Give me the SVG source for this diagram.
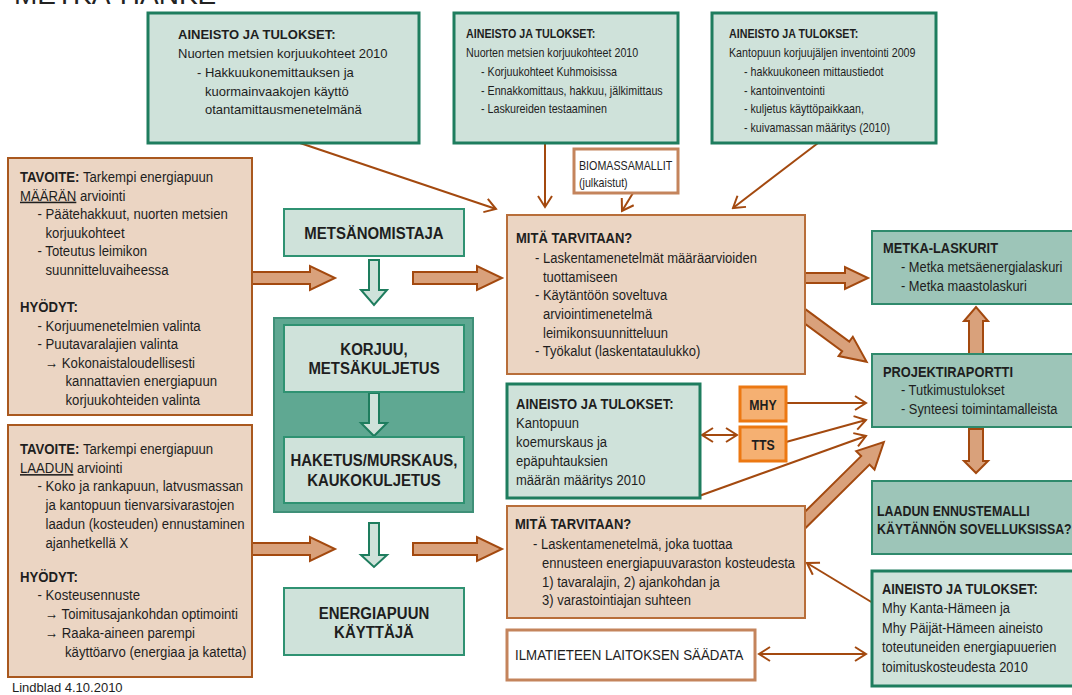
<svg xmlns="http://www.w3.org/2000/svg" width="1072" height="695" viewBox="0 0 1072 695">
<style>
.n{font-family:"Liberation Sans Narrow","Arial Narrow","Liberation Sans",Arial,sans-serif;fill:#1e1e1e}
.w{font-family:"Liberation Sans",Arial,sans-serif;fill:#1e1e1e;font-size:13px}
.s13{font-size:13.2px}
.s15{font-size:15.5px}
.s17{font-size:17px}
.b{font-weight:bold}
.gbox{fill:#cfe2da;stroke:#1e7d5e;stroke-width:3}
.gbox2{fill:#cfe2da;stroke:#2f9272;stroke-width:2}
.tbox{fill:#9dc5b8;stroke:#2f8a6c;stroke-width:2}
.pbox{fill:#ebd5c3;stroke:#a9581e;stroke-width:2}
.mbox{fill:#ebd5c3;stroke:#b86e3a;stroke-width:2}
.wbox{fill:#fff;stroke:#c4845c;stroke-width:3}
.obox{fill:#f5b072;stroke:#ec7812;stroke-width:3}
.ba{fill:#d9a17b;stroke:#a3490f;stroke-width:2;stroke-linejoin:miter}
.ga{fill:#cfe2da;stroke:#1e7d5e;stroke-width:2}
.tl{fill:none;stroke:#a3490f;stroke-width:2}
</style>
<defs>
<marker id="ah" markerUnits="userSpaceOnUse" viewBox="0 0 14 16" markerWidth="14" markerHeight="16" refX="12" refY="8" orient="auto-start-reverse">
<path d="M1,1 L12,8 L1,15" fill="none" stroke="#a3490f" stroke-width="2"/>
</marker>
</defs>
<rect width="1072" height="695" fill="#fff"/>
<text x="14" y="4" font-family="Liberation Sans, Arial, sans-serif" font-size="28" fill="#222">METKA-HANKE</text>

<g id="container">
<rect x="274" y="318" width="199" height="194" fill="#5fa892" stroke="#3f9078" stroke-width="2"/>
</g>

<g id="connectors">
<line class="tl" x1="300" y1="143" x2="496" y2="209" marker-end="url(#ah)"/>
<line class="tl" x1="545" y1="143" x2="545" y2="207" marker-end="url(#ah)"/>
<line class="tl" x1="633" y1="193" x2="622" y2="211" marker-end="url(#ah)"/>
<line class="tl" x1="818" y1="143" x2="733" y2="208" marker-end="url(#ah)"/>
<line class="tl" x1="786" y1="403" x2="866" y2="403" marker-end="url(#ah)"/>
<line class="tl" x1="786" y1="442" x2="866" y2="420" marker-end="url(#ah)"/>
<line class="tl" x1="699" y1="496" x2="866" y2="436" marker-end="url(#ah)"/>
<line class="tl" x1="702" y1="435" x2="737" y2="435" marker-start="url(#ah)" marker-end="url(#ah)"/>
<line class="tl" x1="873" y1="603" x2="807" y2="563" marker-end="url(#ah)"/>
<line class="tl" x1="759" y1="654" x2="866" y2="654" marker-start="url(#ah)" marker-end="url(#ah)"/>
<polygon class="ba" points="252,272 310,272 310,266 335,278 310,290 310,284 252,284"/>
<polygon class="ba" points="413,272 477,272 477,266 502,278 477,290 477,284 413,284"/>
<polygon class="ba" points="252,543 310,543 310,537 335,549 310,561 310,555 252,555"/>
<polygon class="ba" points="413,543 477,543 477,537 502,549 477,561 477,555 413,555"/>
<polygon class="ba" points="805,273 845,273 845,267 868,278 845,289 845,283 805,283"/>
<polygon class="ba" transform="translate(795,309) rotate(36.4)" points="0,-6 63,-6 63,-12 89,0 63,12 63,6 0,6"/>
<polygon class="ba" transform="translate(795,530) rotate(-44.7)" points="0,-6 99,-6 99,-13 125,0 99,13 99,6 0,6"/>
<polygon class="ba" points="969,354 969,321 964,321 976,307 988,321 983,321 983,354"/>
<polygon class="ba" points="969,429 969,461 964,461 976,473 988,461 983,461 983,429"/>
<polygon class="ga" points="369,260 379,260 379,290 387,290 374,305 361,290 369,290"/>
<polygon class="ga" points="369,393 379,393 379,423 387,423 374,436 361,423 369,423"/>
<polygon class="ga" points="369,523 379,523 379,555 387,555 374,567 361,555 369,555"/>
</g>

<g id="top1">
<rect class="gbox" x="148" y="13" width="271" height="130"/>
<text class="w b" x="178" y="39">AINEISTO JA TULOKSET:</text>
<text class="w" x="178" y="58">Nuorten metsien korjuukohteet 2010</text>
<text class="w" x="197" y="77">- Hakkuukonemittauksen ja</text>
<text class="w" x="205" y="96">kuormainvaakojen käyttö</text>
<text class="w" x="205" y="114">otantamittausmenetelmänä</text>
</g>

<g id="top2">
<rect class="gbox" x="454" y="13" width="224" height="130"/>
<text class="n s13 b" x="466" y="38" transform="matrix(.81 0 0 1 88.54 0)">AINEISTO JA TULOKSET:</text>
<text class="n s13" x="466" y="57" transform="matrix(.81 0 0 1 88.54 0)">Nuorten metsien korjuukohteet 2010</text>
<text class="n s13" x="481" y="76" transform="matrix(.81 0 0 1 91.39 0)">- Korjuukohteet Kuhmoisissa</text>
<text class="n s13" x="481" y="95" transform="matrix(.81 0 0 1 91.39 0)">- Ennakkomittaus, hakkuu, jälkimittaus</text>
<text class="n s13" x="481" y="113" transform="matrix(.81 0 0 1 91.39 0)">- Laskureiden testaaminen</text>
</g>

<g id="top3">
<rect class="gbox" x="712" y="13" width="224" height="130"/>
<text class="n s13 b" x="729" y="38" transform="matrix(.81 0 0 1 138.51 0)">AINEISTO JA TULOKSET:</text>
<text class="n s13" x="729" y="57" transform="matrix(.81 0 0 1 138.51 0)">Kantopuun korjuujäljen inventointi 2009</text>
<text class="n s13" x="744" y="76" transform="matrix(.81 0 0 1 141.36 0)">- hakkuukoneen mittaustiedot</text>
<text class="n s13" x="744" y="95" transform="matrix(.81 0 0 1 141.36 0)">- kantoinventointi</text>
<text class="n s13" x="744" y="113" transform="matrix(.81 0 0 1 141.36 0)">- kuljetus käyttöpaikkaan,</text>
<text class="n s13" x="744" y="132" transform="matrix(.81 0 0 1 141.36 0)">- kuivamassan määritys (2010)</text>
</g>

<g id="biomassa">
<rect class="wbox" x="574" y="149" width="104" height="44"/>
<text class="n s13" x="579" y="170" transform="matrix(.81 0 0 1 110.01 0)">BIOMASSAMALLIT</text>
<text class="n s13" x="579" y="187" transform="matrix(.81 0 0 1 110.01 0)">(julkaistut)</text>
</g>

<g id="tavoite1">
<rect class="pbox" x="8" y="158" width="244" height="257"/>
<text class="n s15" x="20" y="182" transform="matrix(.85 0 0 1 3 0)"><tspan class="b">TAVOITE:</tspan> Tarkempi energiapuun</text>
<text class="n s15" x="20" y="200.6" transform="matrix(.85 0 0 1 3 0)"><tspan text-decoration="underline">MÄÄRÄN</tspan> arviointi</text>
<text class="n s15" x="37.5" y="219.2" transform="matrix(.85 0 0 1 5.625 0)">- Päätehakkuut, nuorten metsien</text>
<text class="n s15" x="45.5" y="237.8" transform="matrix(.85 0 0 1 6.825 0)">korjuukohteet</text>
<text class="n s15" x="37.5" y="256.4" transform="matrix(.85 0 0 1 5.625 0)">- Toteutus leimikon</text>
<text class="n s15" x="45.5" y="275" transform="matrix(.85 0 0 1 6.825 0)">suunnitteluvaiheessa</text>
<text class="n s15 b" x="20" y="312" transform="matrix(.85 0 0 1 3 0)">HYÖDYT:</text>
<text class="n s15" x="37.5" y="330.6" transform="matrix(.85 0 0 1 5.625 0)">- Korjuumenetelmien valinta</text>
<text class="n s15" x="37.5" y="349.2" transform="matrix(.85 0 0 1 5.625 0)">- Puutavaralajien valinta</text>
<text class="n s15" x="45" y="367.8" transform="matrix(.85 0 0 1 6.75 0)">→ Kokonaistaloudellisesti</text>
<text class="n s15" x="65.5" y="386.4" transform="matrix(.85 0 0 1 9.825 0)">kannattavien energiapuun</text>
<text class="n s15" x="65.5" y="405" transform="matrix(.85 0 0 1 9.825 0)">korjuukohteiden valinta</text>
</g>

<g id="tavoite2">
<rect class="pbox" x="8" y="425" width="244" height="252"/>
<text class="n s15" x="20" y="454" transform="matrix(.85 0 0 1 3 0)"><tspan class="b">TAVOITE:</tspan> Tarkempi energiapuun</text>
<text class="n s15" x="20" y="473" transform="matrix(.85 0 0 1 3 0)"><tspan text-decoration="underline">LAADUN</tspan> arviointi</text>
<text class="n s15" x="37.5" y="491.5" transform="matrix(.85 0 0 1 5.625 0)">- Koko ja rankapuun, latvusmassan</text>
<text class="n s15" x="45.5" y="510" transform="matrix(.85 0 0 1 6.825 0)">ja kantopuun tienvarsivarastojen</text>
<text class="n s15" x="45.5" y="529" transform="matrix(.85 0 0 1 6.825 0)">laadun (kosteuden) ennustaminen</text>
<text class="n s15" x="45.5" y="548" transform="matrix(.85 0 0 1 6.825 0)">ajanhetkellä X</text>
<text class="n s15 b" x="20" y="582" transform="matrix(.85 0 0 1 3 0)">HYÖDYT:</text>
<text class="n s15" x="37.5" y="600.5" transform="matrix(.85 0 0 1 5.625 0)">- Kosteusennuste</text>
<text class="n s15" x="45" y="619" transform="matrix(.85 0 0 1 6.75 0)">→ Toimitusajankohdan optimointi</text>
<text class="n s15" x="45" y="638" transform="matrix(.85 0 0 1 6.75 0)">→ Raaka-aineen parempi</text>
<text class="n s15" x="65" y="657" transform="matrix(.85 0 0 1 9.75 0)">käyttöarvo (energiaa ja katetta)</text>
</g>

<text id="credit" class="w" x="12" y="692">Lindblad 4.10.2010</text>

<g id="metsanomistaja">
<rect class="gbox2" x="284" y="209" width="180" height="47"/>
<text class="n s17 b" x="374" y="239" text-anchor="middle" transform="matrix(.88 0 0 1 44.88 0)">METSÄNOMISTAJA</text>
</g>

<g id="korjuu">
<rect class="gbox2" x="284" y="325" width="180" height="67"/>
<text class="n s17 b" x="374" y="355" text-anchor="middle" transform="matrix(.88 0 0 1 44.88 0)">KORJUU,</text>
<text class="n s17 b" x="374" y="374" text-anchor="middle" transform="matrix(.88 0 0 1 44.88 0)">METSÄKULJETUS</text>
</g>

<g id="haketus">
<rect class="gbox2" x="284" y="437" width="180" height="66"/>
<text class="n s17 b" x="374" y="466" text-anchor="middle" transform="matrix(.88 0 0 1 44.88 0)">HAKETUS/MURSKAUS,</text>
<text class="n s17 b" x="374" y="486" text-anchor="middle" transform="matrix(.88 0 0 1 44.88 0)">KAUKOKULJETUS</text>
</g>

<g id="kayttaja">
<rect class="gbox2" x="284" y="588" width="180" height="67"/>
<text class="n s17 b" x="374" y="619" text-anchor="middle" transform="matrix(.88 0 0 1 44.88 0)">ENERGIAPUUN</text>
<text class="n s17 b" x="374" y="638" text-anchor="middle" transform="matrix(.88 0 0 1 44.88 0)">KÄYTTÄJÄ</text>
</g>

<g id="mita1">
<rect class="mbox" x="507" y="215" width="298" height="159"/>
<text class="n s15 b" x="516" y="243" transform="matrix(.84 0 0 1 82.56 0)">MITÄ TARVITAAN?</text>
<text class="n s15" x="535" y="263" transform="matrix(.84 0 0 1 85.6 0)">- Laskentamenetelmät määräarvioiden</text>
<text class="n s15" x="543" y="282" transform="matrix(.84 0 0 1 86.88 0)">tuottamiseen</text>
<text class="n s15" x="535" y="300" transform="matrix(.84 0 0 1 85.6 0)">- Käytäntöön soveltuva</text>
<text class="n s15" x="543" y="319" transform="matrix(.84 0 0 1 86.88 0)">arviointimenetelmä</text>
<text class="n s15" x="543" y="338" transform="matrix(.84 0 0 1 86.88 0)">leimikonsuunnitteluun</text>
<text class="n s15" x="535" y="356" transform="matrix(.84 0 0 1 85.6 0)">- Työkalut (laskentataulukko)</text>
</g>

<g id="aineisto-mid">
<rect class="gbox" x="507" y="384" width="193" height="114"/>
<text class="n s15 b" x="516" y="409" transform="matrix(.84 0 0 1 82.56 0)">AINEISTO JA TULOKSET:</text>
<text class="n s15" x="516" y="428" transform="matrix(.84 0 0 1 82.56 0)">Kantopuun</text>
<text class="n s15" x="516" y="447" transform="matrix(.84 0 0 1 82.56 0)">koemurskaus ja</text>
<text class="n s15" x="516" y="466" transform="matrix(.84 0 0 1 82.56 0)">epäpuhtauksien</text>
<text class="n s15" x="516" y="485" transform="matrix(.84 0 0 1 82.56 0)">määrän määritys 2010</text>
</g>

<g id="mhy">
<rect class="obox" x="740" y="387" width="46" height="34"/>
<text class="n b" font-size="15" x="763" y="410" text-anchor="middle" transform="matrix(.82 0 0 1 137.34 0)">MHY</text>
</g>

<g id="tts">
<rect class="obox" x="740" y="427" width="46" height="34"/>
<text class="n b" font-size="15" x="763" y="450" text-anchor="middle" transform="matrix(.82 0 0 1 137.34 0)">TTS</text>
</g>

<g id="mita2">
<rect class="mbox" x="507" y="506" width="298" height="112"/>
<text class="n s15 b" x="515" y="529" transform="matrix(.84 0 0 1 82.4 0)">MITÄ TARVITAAN?</text>
<text class="n s15" x="533" y="549" transform="matrix(.84 0 0 1 85.28 0)">- Laskentamenetelmä, joka tuottaa</text>
<text class="n s15" x="542" y="568" transform="matrix(.84 0 0 1 86.72 0)">ennusteen energiapuuvaraston kosteudesta</text>
<text class="n s15" x="542" y="587" transform="matrix(.84 0 0 1 86.72 0)">1) tavaralajin, 2) ajankohdan ja</text>
<text class="n s15" x="542" y="605" transform="matrix(.84 0 0 1 86.72 0)">3) varastointiajan suhteen</text>
</g>

<g id="ilmatieteen">
<rect class="wbox" x="507" y="630" width="248" height="50"/>
<text class="n s15" x="515" y="660" transform="matrix(.86 0 0 1 72.1 0)">ILMATIETEEN LAITOKSEN SÄÄDATA</text>
</g>

<g id="metka">
<rect class="tbox" x="872" y="231" width="210" height="73"/>
<text class="n s15 b" x="883" y="253" transform="matrix(.83 0 0 1 150.11 0)">METKA-LASKURIT</text>
<text class="n s15" x="901" y="272" transform="matrix(.83 0 0 1 153.17 0)">- Metka metsäenergialaskuri</text>
<text class="n s15" x="901" y="291" transform="matrix(.83 0 0 1 153.17 0)">- Metka maastolaskuri</text>
</g>

<g id="projekti">
<rect class="tbox" x="872" y="354" width="210" height="73"/>
<text class="n s15 b" x="883" y="377" transform="matrix(.83 0 0 1 150.11 0)">PROJEKTIRAPORTTI</text>
<text class="n s15" x="901" y="395" transform="matrix(.83 0 0 1 153.17 0)">- Tutkimustulokset</text>
<text class="n s15" x="901" y="414" transform="matrix(.83 0 0 1 153.17 0)">- Synteesi toimintamalleista</text>
</g>

<g id="laadun">
<rect class="tbox" x="872" y="481" width="210" height="73"/>
<text class="n s15 b" x="877" y="516" transform="matrix(.8 0 0 1 175.4 0)">LAADUN ENNUSTEMALLI</text>
<text class="n s15 b" x="877" y="534" transform="matrix(.8 0 0 1 175.4 0)">KÄYTÄNNÖN SOVELLUKSISSA?</text>
</g>

<g id="aineisto-br">
<rect class="gbox" x="872" y="571" width="210" height="115"/>
<text class="n s15 b" x="882" y="594" transform="matrix(.83 0 0 1 149.94 0)">AINEISTO JA TULOKSET:</text>
<text class="n s15" x="882" y="613" transform="matrix(.83 0 0 1 149.94 0)">Mhy Kanta-Hämeen ja</text>
<text class="n s15" x="882" y="633" transform="matrix(.83 0 0 1 149.94 0)">Mhy Päijät-Hämeen aineisto</text>
<text class="n s15" x="882" y="652" transform="matrix(.83 0 0 1 149.94 0)">toteutuneiden energiapuuerien</text>
<text class="n s15" x="882" y="672" transform="matrix(.83 0 0 1 149.94 0)">toimituskosteudesta 2010</text>
</g>
</svg>
